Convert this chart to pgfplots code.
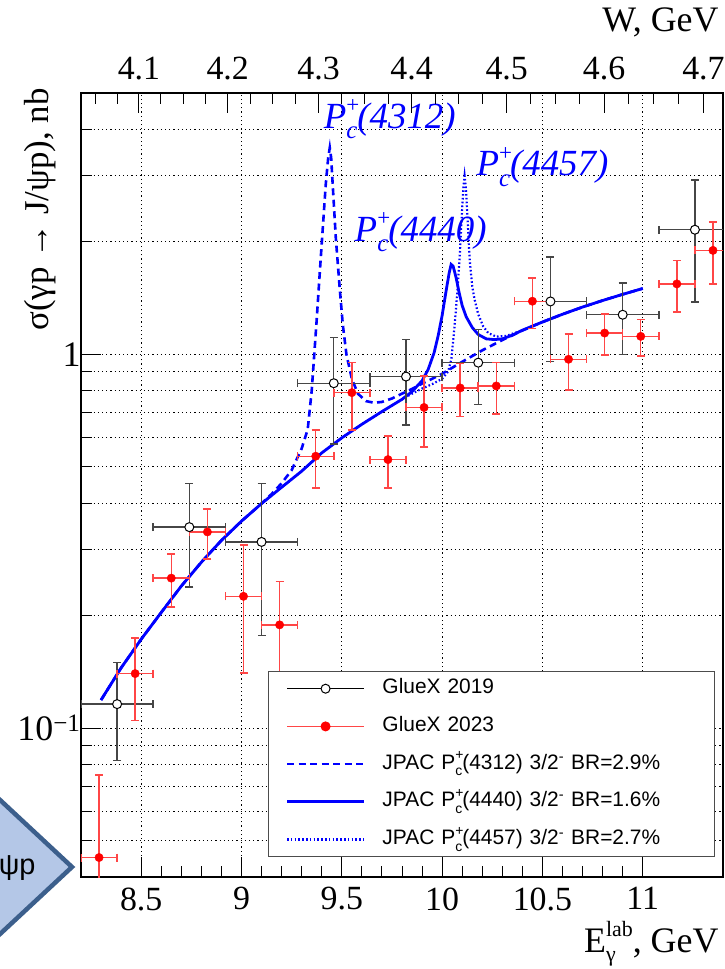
\documentclass[border=0pt]{standalone}
\usepackage{fontspec}
\setmainfont{Liberation Serif}
\newfontfamily\legendfont{Liberation Sans}
\usepackage{pgfplots}
\usepackage{pgfplotstable}
\pgfplotsset{compat=1.18}

\definecolor{jpacblue}{RGB}{0,0,255}
\definecolor{gxred}{RGB}{255,0,0}
\definecolor{gxredbar}{RGB}{255,70,70}
\definecolor{gxgray}{RGB}{70,70,70}
\definecolor{arrowfill}{RGB}{180,199,231}
\definecolor{arrowedge}{RGB}{60,95,140}

% P_c^+ with stacked indices, ROOT-like placement
\newcommand{\Pc}[1]{P\rlap{\raisebox{0.42em}{\fontsize{23}{23}\selectfont\upshape +}}\raisebox{-0.28em}{\fontsize{25}{25}\selectfont c}(#1)}
\newcommand{\PcL}[1]{P\rlap{\raisebox{0.45em}{\fontsize{14}{14}\selectfont +}}\raisebox{-0.32em}{\fontsize{14}{14}\selectfont c}(#1)}

% GlueX 2019: E, sigma, dE, +dsigma, -dsigma
\pgfplotstableread{
x y ex eyp eym
8.38 0.116 0.18 0.034 0.034
8.74 0.345 0.18 0.106 0.106
9.10 0.315 0.18 0.136 0.138
9.46 0.837 0.18 0.271 0.262
9.82 0.872 0.18 0.224 0.226
10.18 0.950 0.18 0.216 0.215
10.54 1.385 0.18 0.433 0.429
10.90 1.276 0.18 0.277 0.276
11.26 2.154 0.18 0.776 0.775
}\gluexA

% GlueX 2023
\pgfplotstableread{
x y ex eyp eym
8.29 0.0451 0.09 0.030 0.030
8.47 0.140 0.09 0.034 0.035
8.65 0.252 0.09 0.040 0.041
8.83 0.335 0.09 0.051 0.051
9.01 0.2253 0.09 0.084 0.085
9.19 0.189 0.09 0.058 0.060
9.37 0.534 0.09 0.093 0.095
9.55 0.790 0.09 0.160 0.163
9.73 0.523 0.09 0.082 0.084
9.91 0.721 0.09 0.154 0.156
10.09 0.813 0.09 0.133 0.131
10.27 0.823 0.09 0.127 0.131
10.45 1.387 0.09 0.214 0.214
10.63 0.970 0.09 0.165 0.167
10.81 1.140 0.09 0.140 0.144
10.99 1.117 0.09 0.123 0.127
11.17 1.543 0.09 0.241 0.243
11.35 1.897 0.09 0.363 0.353
}\gluexB

% JPAC, Pc(4312)
\pgfplotstableread{
x y
8.30 0.119
8.40 0.145
8.50 0.173
8.60 0.204
8.70 0.240
8.80 0.278
8.90 0.318
9.00 0.358
9.10 0.399
9.15 0.423
9.20 0.452
9.25 0.490
9.30 0.560
9.33 0.630
9.35 0.800
9.374 1.22
9.39 1.65
9.407 2.25
9.42 2.85
9.432 3.35
9.440 3.57
9.447 3.35
9.456 2.76
9.47 2.05
9.49 1.49
9.505 1.20
9.523 1.00
9.55 0.860
9.58 0.785
9.62 0.750
9.66 0.742
9.70 0.746
9.75 0.762
9.80 0.785
9.85 0.808
9.90 0.835
9.95 0.860
10.00 0.887
10.10 0.955
10.20 1.025
10.30 1.092
10.40 1.158
10.50 1.220
10.60 1.280
10.70 1.338
10.80 1.393
10.90 1.447
11.00 1.500
}\pcA

% JPAC, Pc(4440)
\pgfplotstableread{
x y
8.30 0.119
8.40 0.145
8.50 0.173
8.60 0.204
8.70 0.240
8.80 0.278
8.90 0.318
9.00 0.358
9.10 0.399
9.20 0.441
9.30 0.487
9.40 0.545
9.50 0.598
9.60 0.650
9.70 0.703
9.80 0.758
9.85 0.795
9.90 0.850
9.93 0.910
9.96 1.01
9.98 1.12
10.00 1.27
10.02 1.48
10.035 1.65
10.045 1.74
10.055 1.72
10.07 1.60
10.085 1.46
10.10 1.35
10.12 1.26
10.15 1.18
10.18 1.13
10.22 1.10
10.26 1.095
10.30 1.10
10.35 1.125
10.40 1.16
10.45 1.19
10.50 1.22
10.60 1.280
10.70 1.338
10.80 1.393
10.90 1.447
11.00 1.500
}\pcB

% JPAC, Pc(4457)
\pgfplotstableread{
x y
8.30 0.119
8.40 0.145
8.50 0.173
8.60 0.204
8.70 0.240
8.80 0.278
8.90 0.318
9.00 0.358
9.10 0.399
9.20 0.441
9.30 0.487
9.40 0.545
9.50 0.598
9.60 0.650
9.70 0.703
9.80 0.758
9.85 0.785
9.90 0.810
9.95 0.832
10.00 0.860
10.03 0.900
10.046 0.97
10.062 1.19
10.075 1.45
10.087 1.80
10.098 2.35
10.106 2.80
10.112 3.00
10.118 2.80
10.126 2.35
10.137 1.80
10.15 1.52
10.162 1.40
10.18 1.28
10.204 1.19
10.23 1.14
10.27 1.115
10.32 1.12
10.40 1.16
10.50 1.22
10.60 1.280
10.70 1.338
10.80 1.393
10.90 1.447
11.00 1.500
}\pcC

\begin{document}
\begin{tikzpicture}[x=1bp,y=1bp]
\useasboundingbox (-81,-92) rectangle (644,877);

% fragment of a slide arrow at the left edge
\filldraw[fill=arrowfill, draw=arrowedge, line width=4.5bp, line join=miter]
  (-300,78) -- (-82,78) -- (-9,10) -- (-82,-58) -- (-300,-58) -- cycle;
\node[font=\legendfont\fontsize{29}{29}\selectfont, anchor=base east] at (-42,3) {ψp};

\begin{axis}[
  at={(0,0)}, anchor=south west,
  scale only axis, width=642bp, height=784bp,
  xmin=8.2, xmax=11.4,
  ymode=log, ymin=0.04, ymax=5,
  xtick={8.5,9,9.5,10,10.5,11},
  xticklabels={8.5,9,9.5,10,10.5,11},
  minor x tick num=4,
  ytick={0.1,1},
  yticklabels={10\textsuperscript{−1},1},
  minor ytick={0.04,0.05,0.06,0.07,0.08,0.09,0.2,0.3,0.4,0.5,0.6,0.7,0.8,0.9,2,3,4,5},
  xtick pos=bottom, ytick pos=left,
  tick align=inside,
  major tick length=20bp, minor tick length=11bp,
  tick style={black, line width=1bp},
  axis line style={black, line width=1.5bp},
  xmajorgrids, ymajorgrids, yminorgrids,
  major grid style={black, line width=0.9bp, dash pattern=on 1.2bp off 3bp},
  minor grid style={black, line width=0.9bp, dash pattern=on 1.2bp off 3bp},
  xticklabel style={font=\fontsize{34}{34}\selectfont, yshift=-7bp},
  yticklabel style={font=\fontsize{36}{36}\selectfont, xshift=3bp},
  legend image code/.code={\draw[#1] (0bp,0bp) -- (77bp,0bp);},
  legend cell align=left,
  legend style={
    at={(0.9875,0.0255)}, anchor=south east,
    draw=black!70, line width=1bp, fill=white,
    font=\legendfont\fontsize{21}{21}\selectfont,
    inner xsep=17bp, inner ysep=6bp,
    row sep=15.7bp, column sep=17bp,
    nodes={inner sep=0bp, text height=16bp, text depth=6bp, text width=315bp},
  },
]

\addlegendimage{legend image code/.code={
  \draw[black, line width=1.2bp] (0bp,0bp) -- (77bp,0bp);
  \draw[black, fill=white, line width=1bp] (38.5bp,0bp) circle (4.5bp);}}
\addlegendentry{GlueX 2019}
\addlegendimage{legend image code/.code={
  \draw[gxredbar, line width=1.2bp] (0bp,0bp) -- (77bp,0bp);
  \fill[gxred] (38.5bp,0bp) circle (4.5bp);}}
\addlegendentry{GlueX 2023}

\addplot[jpacblue, line width=2.6bp, dash pattern=on 7bp off 4.5bp] table {\pcA};
\addlegendentry{JPAC \PcL{4312} 3/2\textsuperscript{-} BR=2.9\%}
\addplot[jpacblue, line width=2.8bp] table {\pcB};
\addlegendentry{JPAC \PcL{4440} 3/2\textsuperscript{-} BR=1.6\%}
\addplot[jpacblue, line width=2.2bp, dash pattern=on 1.6bp off 2.2bp] table {\pcC};
\addlegendentry{JPAC \PcL{4457} 3/2\textsuperscript{-} BR=2.7\%}

\addplot[forget plot, only marks, mark=*, mark size=4.5bp,
  mark options={draw=black, fill=white, line width=1bp},
  error bars/.cd, x dir=both, x explicit, y dir=both, y explicit,
  error bar style={gxgray, line width=1.4bp},
  error mark options={gxgray, line width=1.6bp, mark size=4bp, rotate=90}]
  table[x=x, y=y, x error=ex, y error plus=eyp, y error minus=eym] {\gluexA};

\addplot[forget plot, only marks, mark=*, mark size=4.2bp,
  mark options={draw=gxred, fill=gxred},
  error bars/.cd, x dir=both, x explicit, y dir=both, y explicit,
  error bar style={gxredbar, line width=1.4bp},
  error mark options={gxredbar, line width=1.6bp, mark size=4bp, rotate=90}]
  table[x=x, y=y, x error=ex, y error plus=eyp, y error minus=eym] {\gluexB};

\node[jpacblue, font=\fontsize{37}{37}\selectfont\itshape] at (axis cs:9.739,4.25) {\Pc{4312}};
\node[jpacblue, font=\fontsize{37}{37}\selectfont\itshape] at (axis cs:9.893,2.12) {\Pc{4440}};
\node[jpacblue, font=\fontsize{37}{37}\selectfont\itshape] at (axis cs:10.50,3.17) {\Pc{4457}};
\end{axis}

% centre-of-mass energy W on the top axis
\begin{axis}[
  at={(0,0)}, anchor=south west,
  scale only axis, width=642bp, height=784bp,
  xmin=8.2, xmax=11.4,
  ymode=log, ymin=0.04, ymax=5,
  axis x line*=top, axis y line=none,
  xtick={8.4889,8.9312,9.3841,9.8477,10.3220,10.8070,11.3026},
  xticklabels={4.1,4.2,4.3,4.4,4.5,4.6,4.7},
  minor xtick={8.2717,8.3799,8.5984,8.7087,8.8196,9.0434,9.1563,9.2699,9.4990,9.6146,9.7308,9.9653,10.0836,10.2025,10.4423,10.5632,10.6848,10.9299,11.0535,11.1777},
  tick align=inside,
  major tick length=20bp, minor tick length=11bp,
  tick style={black, line width=1bp},
  axis line style={black, line width=1.5bp},
  xticklabel style={font=\fontsize{34}{34}\selectfont, yshift=9bp},
]
\end{axis}

\node[anchor=base east, font=\fontsize{36}{36}\selectfont] at (641,845) {W, GeV};
\node[anchor=base east, font=\fontsize{36}{36}\selectfont] at (641,-75)
  {E\rlap{\raisebox{-0.26em}{\fontsize{22}{22}\selectfont γ}}\raisebox{0.42em}{\fontsize{22}{22}\selectfont lab}, GeV};
\node[rotate=90, anchor=east, font=\fontsize{35}{35}\selectfont] at (-41,792)
  {σ(γp → J/ψp), nb};
\end{tikzpicture}
\end{document}
